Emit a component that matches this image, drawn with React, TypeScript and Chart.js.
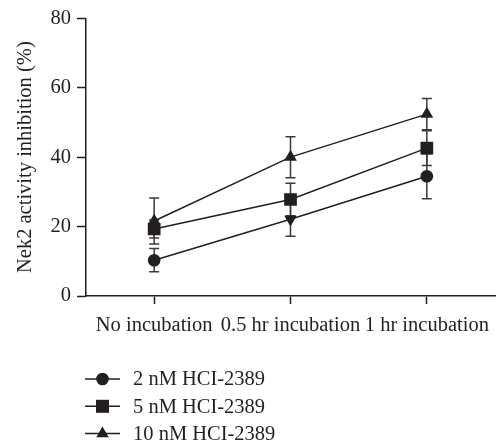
import { useEffect, useRef } from 'react';
import { Chart, registerables } from 'chart.js';

Chart.register(...registerables);

const categories = ['No incubation', '0.5 hr incubation', '1 hr incubation'];
const seriesLabels = ['2 nM HCI-2389', '5 nM HCI-2389', '10 nM HCI-2389'];
const series2nM = [10.3, 22.1, 34.5];
const err2nM = [3.35, 4.9, 6.5];
const series5nM = [19.3, 27.8, 42.6];
const err5nM = [2.6, 4.7, 5.0];
const series10nM = [21.6, 40.0, 52.4];
const err10nM = [6.6, 5.9, 4.5];
const yTicks = [0, 20, 40, 60, 80];
const yTitle = 'Nek2 activity inhibition (%)';

const errorSets = [err2nM, err5nM, err10nM];
const legendStyles = ['circle', 'rect', 'triangle'];

const FONT = "'Liberation Serif', 'Times New Roman', serif";
const FSIZE = 20.5;
const INK = '#231f20';

function drawMarker(ctx: CanvasRenderingContext2D, style: string, x: number, y: number) {
  ctx.beginPath();
  if (style === 'circle') {
    ctx.arc(x, y, 6.3, 0, Math.PI * 2);
  } else if (style === 'rect') {
    ctx.rect(x - 6.5, y - 6.5, 13, 13);
  } else {
    const r = 7.2;
    ctx.moveTo(x, y - r);
    ctx.lineTo(x + r * Math.sin((2 * Math.PI) / 3), y - r * Math.cos((2 * Math.PI) / 3));
    ctx.lineTo(x + r * Math.sin((4 * Math.PI) / 3), y - r * Math.cos((4 * Math.PI) / 3));
    ctx.closePath();
  }
  ctx.fillStyle = INK;
  ctx.fill();
}

const errorBarPlugin = {
  id: 'errorBars',
  beforeDatasetsDraw(chart: any) {
    const ctx = chart.ctx;
    const yScale = chart.scales.y;
    ctx.save();
    ctx.strokeStyle = '#3a3a3a';
    ctx.lineWidth = 1.5;
    chart.data.datasets.forEach((ds: any, i: number) => {
      const meta = chart.getDatasetMeta(i);
      const errs = errorSets[i];
      meta.data.forEach((pt: any, j: number) => {
        const v = ds.data[j];
        const x = pt.x;
        const yt = yScale.getPixelForValue(v + errs[j]);
        const yb = yScale.getPixelForValue(v - errs[j]);
        ctx.beginPath();
        ctx.moveTo(x, yt);
        ctx.lineTo(x, yb);
        ctx.moveTo(x - 5, yt);
        ctx.lineTo(x + 5, yt);
        ctx.moveTo(x - 5, yb);
        ctx.lineTo(x + 5, yb);
        ctx.stroke();
      });
    });
    ctx.restore();
  },
};

const legendPlugin = {
  id: 'lineLegend',
  afterDraw(chart: any) {
    const ctx = chart.ctx;
    ctx.save();
    ctx.font = `${FSIZE}px ${FONT}`;
    ctx.textBaseline = 'middle';
    ctx.textAlign = 'left';
    chart.data.datasets.forEach((ds: any, i: number) => {
      const y = 379 + i * 27.3;
      ctx.strokeStyle = INK;
      ctx.lineWidth = 1.5;
      ctx.beginPath();
      ctx.moveTo(85, y);
      ctx.lineTo(120, y);
      ctx.stroke();
      drawMarker(ctx, legendStyles[i], 102.5, y);
      ctx.fillStyle = INK;
      ctx.fillText(ds.label, 133, y + 1);
    });
    ctx.restore();
  },
};

export default function App() {
  const canvasRef = useRef<HTMLCanvasElement | null>(null);

  useEffect(() => {
    if (!canvasRef.current) return;
    const common = {
      borderColor: INK,
      backgroundColor: INK,
      borderWidth: 1.5,
      pointBackgroundColor: INK,
      pointBorderColor: INK,
      pointBorderWidth: 0,
      fill: false,
      tension: 0,
    };
    const chart = new Chart(canvasRef.current, {
      type: 'line',
      data: {
        labels: categories,
        datasets: [
          {
            ...common,
            label: seriesLabels[0],
            data: series2nM,
            pointStyle: ['circle', 'triangle', 'circle'],
            rotation: [0, 180, 0],
            pointRadius: [6.3, 7.2, 6.3],
          },
          {
            ...common,
            label: seriesLabels[1],
            data: series5nM,
            pointStyle: 'rect',
            pointRadius: 9,
          },
          {
            ...common,
            label: seriesLabels[2],
            data: series10nM,
            pointStyle: 'triangle',
            pointRadius: 7.4,
          },
        ],
      } as any,
      options: {
        animation: false,
        responsive: false,
        devicePixelRatio: 1,
        layout: { padding: { top: 16, right: 4, left: 0, bottom: 0 } },
        plugins: {
          legend: { display: false },
          tooltip: { enabled: false },
        },
        scales: {
          x: {
            type: 'category',
            offset: true,
            afterFit: (scale: any) => {
              scale.height = 150;
            },
            grid: {
              offset: false,
              drawOnChartArea: false,
              tickLength: 8,
              tickColor: INK,
              tickWidth: 1.5,
            },
            border: { display: true, color: INK, width: 1.5 },
            ticks: {
              autoSkip: false,
              maxRotation: 0,
              minRotation: 0,
              padding: 9,
              color: INK,
              font: { family: FONT, size: FSIZE },
            },
          },
          y: {
            min: 0,
            max: 80,
            afterFit: (scale: any) => {
              scale.width = 86;
            },
            afterBuildTicks: (scale: any) => {
              scale.ticks = yTicks.map((v) => ({ value: v }));
            },
            grid: {
              drawOnChartArea: false,
              tickLength: 9,
              tickColor: INK,
              tickWidth: 1.5,
            },
            border: { display: true, color: INK, width: 1.5 },
            ticks: {
              padding: 6,
              color: INK,
              font: { family: FONT, size: FSIZE },
            },
            title: {
              display: true,
              text: yTitle,
              color: INK,
              font: { family: FONT, size: FSIZE, weight: 'normal' },
              padding: { top: 13, bottom: 0 },
            },
          },
        },
      } as any,
      plugins: [errorBarPlugin, legendPlugin],
    });
    return () => chart.destroy();
  }, []);

  return (
    <div style={{ position: 'fixed', left: 0, top: 0, width: 504, height: 446, background: '#fff' }}>
      <canvas ref={canvasRef} width={504} height={446} style={{ width: 504, height: 446, display: 'block' }} />
    </div>
  );
}
